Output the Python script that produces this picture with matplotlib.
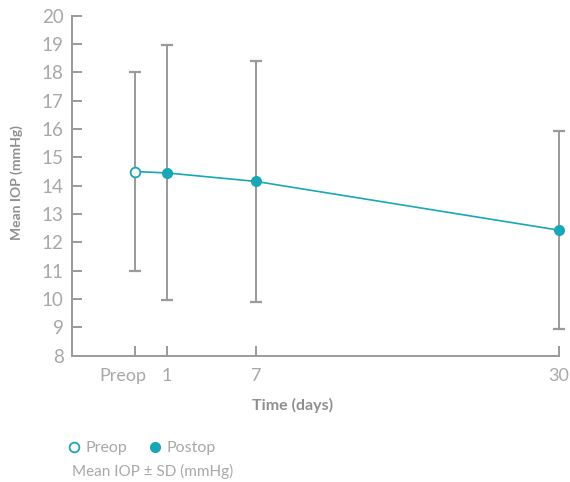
import matplotlib
matplotlib.use("Agg")
import matplotlib.pyplot as plt
from matplotlib.lines import Line2D
from matplotlib.transforms import ScaledTranslation

# data
labels = ["Preop", "1", "7", "30"]
mean_iop = [14.5, 14.45, 14.15, 12.43]
sd_iop = [3.5, 4.5, 4.25, 3.5]

# layout: relative horizontal placement of the time points
x_pos = [0, 1, 3.78, 13.25]

TEAL = "#19a7b5"
AXIS = "#9a9a9a"
TXT = "#a8a8a8"
LBL = "#8f8f8f"

plt.rcParams["font.family"] = ["Lato", "DejaVu Sans"]

fig = plt.figure(figsize=(5.7, 4.82), dpi=100)
ax = fig.add_axes([0.1263, 0.262, 0.8544, 0.7055])

ax.errorbar(x_pos, mean_iop, yerr=sd_iop, fmt="none", ecolor=AXIS,
            elinewidth=1.4, capsize=4.5, capthick=1.6, zorder=1, clip_on=False)
ax.plot(x_pos, mean_iop, color=TEAL, lw=1.2, zorder=2, clip_on=False)
ax.plot(x_pos[:1], mean_iop[:1], "o", ms=7, mfc="white", mec=TEAL, mew=1.3,
        zorder=3, clip_on=False)
ax.plot(x_pos[1:], mean_iop[1:], "o", ms=7, mfc=TEAL, mec=TEAL, zorder=3,
        clip_on=False)

ax.set_xlim((72 - 135) / 32, x_pos[-1])
ax.set_ylim(8, 20)
ax.set_yticks(range(8, 21))
ax.set_xticks(x_pos)
ax.set_xticklabels(labels)

for s in ["top", "right"]:
    ax.spines[s].set_visible(False)
for s in ["left", "bottom"]:
    ax.spines[s].set_color(AXIS)
    ax.spines[s].set_linewidth(1.4)

ax.tick_params(axis="both", direction="in", length=7, width=1.4, color=AXIS,
               labelcolor=TXT)
ax.tick_params(axis="y", labelsize=13.5, pad=6)
ax.tick_params(axis="x", labelsize=13, pad=9)
preop_lbl = ax.get_xticklabels()[0]
preop_lbl.set_horizontalalignment("right")
preop_lbl.set_transform(preop_lbl.get_transform()
                        + ScaledTranslation(0.11, 0, fig.dpi_scale_trans))

ax.set_ylabel("Mean IOP (mmHg)", fontsize=10, fontweight="bold", color=LBL)
ax.yaxis.set_label_coords(-0.10, 0.51)
ax.set_xlabel("Time (days)", fontsize=11.5, fontweight="bold", color=LBL)
ax.xaxis.set_label_coords(0.452, -0.123)

handles = [
    Line2D([], [], ls="none", marker="o", ms=7, mfc="white", mec=TEAL, mew=1.3),
    Line2D([], [], ls="none", marker="o", ms=7, mfc=TEAL, mec=TEAL),
]
leg = fig.legend(handles, ["Preop", "Postop"], loc="center left",
                 bbox_to_anchor=(0.115, 1 - 448 / 482), ncol=2, frameon=False,
                 fontsize=11.5, handletextpad=0.25, columnspacing=1.2,
                 handlelength=1.0, borderaxespad=0, borderpad=0)
for t in leg.get_texts():
    t.set_color(TXT)

fig.text(0.126, 1 - 471 / 482, "Mean IOP \u00b1 SD (mmHg)", fontsize=11,
         color=TXT, va="center")

fig.savefig("out.png")
